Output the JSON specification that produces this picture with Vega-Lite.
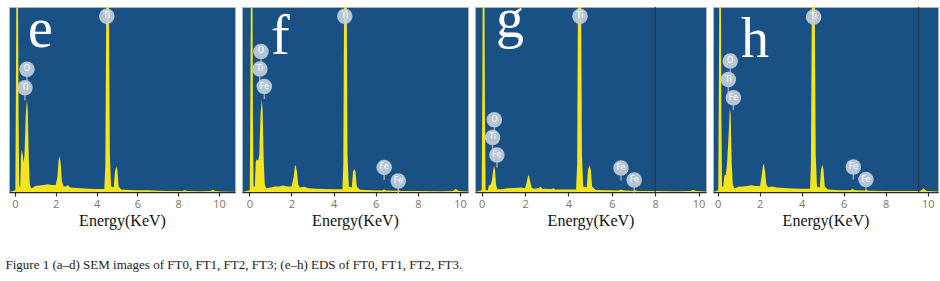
{
  "$schema": "https://vega.github.io/schema/vega-lite/v6.json",
  "padding": {"left": 5, "top": 5, "right": 3, "bottom": 0},
  "background": "white",
  "spacing": 7,
  "bounds": "flush",
  "title": {"text": "Figure 1  (a–d) SEM images of FT0, FT1, FT2, FT3; (e–h) EDS of FT0, FT1, FT2, FT3.", "orient": "bottom", "anchor": "start", "font": "Liberation Serif", "fontSize": 13, "fontWeight": "normal", "color": "#222222", "offset": 30, "dx": -3},
  "config": {
    "concat": {"spacing": 7},
    "view": {"fill": "#1a5184", "stroke": "#a9b6c4", "strokeWidth": 1},
    "axisX": {
      "values": [0,0.5,1,1.5,2,2.5,3,3.5,4,4.5,5,5.5,6,6.5,7,7.5,8,8.5,9,9.5,10],
      "labelExpr": "datum.value % 2 == 0 ? datum.label : ''",
      "grid": false, "domainColor": "#2b2b2b", "domainWidth": 1.5, "tickColor": "#2b2b2b", "tickSize": 4, "tickWidth": 1.2,
      "labelColor": "#85705e", "labelFont": "Open Sans", "labelFontSize": 11, "labelPadding": 2, "labelFlush": false
    }
  },
  "datasets": {
    "spectra": [
      {"p":"e","e":-0.3,"c":0},{"p":"e","e":0.02,"c":1},{"p":"e","e":0.05,"c":60},{"p":"e","e":0.08,"c":130},{"p":"e","e":0.14,"c":130},{"p":"e","e":0.18,"c":40},{"p":"e","e":0.21,"c":3},{"p":"e","e":0.26,"c":3},{"p":"e","e":0.3,"c":20},{"p":"e","e":0.34,"c":23},{"p":"e","e":0.38,"c":20},{"p":"e","e":0.42,"c":16},{"p":"e","e":0.47,"c":20},{"p":"e","e":0.53,"c":42},{"p":"e","e":0.59,"c":50},{"p":"e","e":0.63,"c":44},{"p":"e","e":0.68,"c":18},{"p":"e","e":0.73,"c":4},{"p":"e","e":0.8,"c":2},{"p":"e","e":0.9,"c":2.5},{"p":"e","e":1.0,"c":3.2},{"p":"e","e":1.2,"c":3.5},{"p":"e","e":1.4,"c":3.8},{"p":"e","e":1.6,"c":4.2},{"p":"e","e":1.8,"c":3.8},{"p":"e","e":2.0,"c":3.8},{"p":"e","e":2.08,"c":8},{"p":"e","e":2.14,"c":17},{"p":"e","e":2.18,"c":19.6},{"p":"e","e":2.24,"c":16},{"p":"e","e":2.3,"c":6},{"p":"e","e":2.38,"c":3},{"p":"e","e":2.5,"c":3},{"p":"e","e":2.6,"c":3.8},{"p":"e","e":2.7,"c":2.5},{"p":"e","e":3.0,"c":2.2},{"p":"e","e":3.3,"c":2},{"p":"e","e":3.6,"c":1.8},{"p":"e","e":4.0,"c":1.6},{"p":"e","e":4.38,"c":1.6},{"p":"e","e":4.43,"c":15},{"p":"e","e":4.48,"c":110},{"p":"e","e":4.6,"c":110},{"p":"e","e":4.65,"c":20},{"p":"e","e":4.71,"c":3},{"p":"e","e":4.84,"c":2.5},{"p":"e","e":4.9,"c":11},{"p":"e","e":4.96,"c":13.6},{"p":"e","e":5.02,"c":12},{"p":"e","e":5.08,"c":3},{"p":"e","e":5.2,"c":1.3},{"p":"e","e":5.6,"c":1.1},{"p":"e","e":6.0,"c":0.9},{"p":"e","e":6.5,"c":0.9},{"p":"e","e":7.0,"c":0.7},{"p":"e","e":7.5,"c":0.6},{"p":"e","e":8.2,"c":0.6},{"p":"e","e":8.3,"c":1},{"p":"e","e":8.45,"c":0.5},{"p":"e","e":9.0,"c":0.4},{"p":"e","e":9.6,"c":0.5},{"p":"e","e":9.7,"c":1.4},{"p":"e","e":9.8,"c":0.6},{"p":"e","e":10.1,"c":0.3},{"p":"e","e":10.78,"c":0.2},
      {"p":"f","e":-0.35,"c":0},{"p":"f","e":0.02,"c":1},{"p":"f","e":0.05,"c":60},{"p":"f","e":0.08,"c":130},{"p":"f","e":0.14,"c":130},{"p":"f","e":0.17,"c":40},{"p":"f","e":0.2,"c":3},{"p":"f","e":0.26,"c":3},{"p":"f","e":0.3,"c":16},{"p":"f","e":0.34,"c":17.6},{"p":"f","e":0.42,"c":17},{"p":"f","e":0.47,"c":20},{"p":"f","e":0.53,"c":42},{"p":"f","e":0.59,"c":50},{"p":"f","e":0.63,"c":44},{"p":"f","e":0.68,"c":18},{"p":"f","e":0.73,"c":4},{"p":"f","e":0.8,"c":2},{"p":"f","e":1.0,"c":2.5},{"p":"f","e":1.2,"c":3},{"p":"f","e":1.4,"c":3},{"p":"f","e":1.6,"c":3.5},{"p":"f","e":1.8,"c":3},{"p":"f","e":2.0,"c":3},{"p":"f","e":2.1,"c":8},{"p":"f","e":2.16,"c":14},{"p":"f","e":2.2,"c":14.5},{"p":"f","e":2.26,"c":11},{"p":"f","e":2.32,"c":4},{"p":"f","e":2.4,"c":2.5},{"p":"f","e":2.6,"c":2.8},{"p":"f","e":2.8,"c":2},{"p":"f","e":3.2,"c":1.8},{"p":"f","e":3.6,"c":1.6},{"p":"f","e":4.0,"c":1.5},{"p":"f","e":4.42,"c":1.5},{"p":"f","e":4.46,"c":15},{"p":"f","e":4.5,"c":110},{"p":"f","e":4.62,"c":110},{"p":"f","e":4.66,"c":20},{"p":"f","e":4.72,"c":3},{"p":"f","e":4.86,"c":2.5},{"p":"f","e":4.92,"c":11},{"p":"f","e":4.98,"c":12.4},{"p":"f","e":5.04,"c":11},{"p":"f","e":5.1,"c":3},{"p":"f","e":5.25,"c":1.2},{"p":"f","e":5.8,"c":0.9},{"p":"f","e":6.3,"c":0.8},{"p":"f","e":6.4,"c":1.3},{"p":"f","e":6.5,"c":0.8},{"p":"f","e":7.0,"c":0.7},{"p":"f","e":7.1,"c":1},{"p":"f","e":7.2,"c":0.6},{"p":"f","e":8.0,"c":0.5},{"p":"f","e":9.0,"c":0.4},{"p":"f","e":9.65,"c":0.5},{"p":"f","e":9.8,"c":1.6},{"p":"f","e":9.95,"c":0.6},{"p":"f","e":10.38,"c":0.3},
      {"p":"g","e":-0.31,"c":0},{"p":"g","e":0.0,"c":1},{"p":"g","e":0.03,"c":60},{"p":"g","e":0.05,"c":130},{"p":"g","e":0.12,"c":130},{"p":"g","e":0.15,"c":40},{"p":"g","e":0.18,"c":1},{"p":"g","e":0.28,"c":1},{"p":"g","e":0.33,"c":3.5},{"p":"g","e":0.42,"c":4},{"p":"g","e":0.48,"c":7},{"p":"g","e":0.53,"c":12},{"p":"g","e":0.57,"c":14},{"p":"g","e":0.61,"c":12},{"p":"g","e":0.66,"c":4},{"p":"g","e":0.72,"c":1.5},{"p":"g","e":0.9,"c":1.5},{"p":"g","e":1.2,"c":2},{"p":"g","e":1.5,"c":2.2},{"p":"g","e":1.8,"c":2.5},{"p":"g","e":2.0,"c":2},{"p":"g","e":2.07,"c":5},{"p":"g","e":2.13,"c":8.5},{"p":"g","e":2.17,"c":9},{"p":"g","e":2.23,"c":6},{"p":"g","e":2.3,"c":2.5},{"p":"g","e":2.4,"c":1.8},{"p":"g","e":2.62,"c":2},{"p":"g","e":2.7,"c":2.8},{"p":"g","e":2.8,"c":1.8},{"p":"g","e":3.2,"c":1.6},{"p":"g","e":3.3,"c":2},{"p":"g","e":3.4,"c":1.4},{"p":"g","e":3.8,"c":1.3},{"p":"g","e":4.35,"c":1.3},{"p":"g","e":4.4,"c":15},{"p":"g","e":4.44,"c":110},{"p":"g","e":4.58,"c":110},{"p":"g","e":4.62,"c":20},{"p":"g","e":4.68,"c":3},{"p":"g","e":4.84,"c":2.5},{"p":"g","e":4.9,"c":12},{"p":"g","e":4.97,"c":14.5},{"p":"g","e":5.03,"c":12},{"p":"g","e":5.09,"c":3},{"p":"g","e":5.25,"c":1.1},{"p":"g","e":5.8,"c":0.9},{"p":"g","e":6.3,"c":0.8},{"p":"g","e":6.42,"c":1.4},{"p":"g","e":6.55,"c":0.8},{"p":"g","e":7.0,"c":0.7},{"p":"g","e":7.08,"c":1},{"p":"g","e":7.2,"c":0.6},{"p":"g","e":8.0,"c":0.5},{"p":"g","e":9.0,"c":0.4},{"p":"g","e":9.6,"c":0.5},{"p":"g","e":9.75,"c":1.1},{"p":"g","e":9.9,"c":0.5},{"p":"g","e":10.34,"c":0.3},
      {"p":"h","e":-0.22,"c":0},{"p":"h","e":0.03,"c":1},{"p":"h","e":0.06,"c":60},{"p":"h","e":0.09,"c":130},{"p":"h","e":0.15,"c":130},{"p":"h","e":0.18,"c":40},{"p":"h","e":0.21,"c":3},{"p":"h","e":0.27,"c":3},{"p":"h","e":0.31,"c":8},{"p":"h","e":0.34,"c":9.4},{"p":"h","e":0.39,"c":9},{"p":"h","e":0.45,"c":15.7},{"p":"h","e":0.52,"c":30},{"p":"h","e":0.58,"c":45.5},{"p":"h","e":0.62,"c":42},{"p":"h","e":0.67,"c":16},{"p":"h","e":0.72,"c":4},{"p":"h","e":0.8,"c":2},{"p":"h","e":1.0,"c":2.8},{"p":"h","e":1.2,"c":3},{"p":"h","e":1.4,"c":3.2},{"p":"h","e":1.6,"c":3.6},{"p":"h","e":1.8,"c":3.2},{"p":"h","e":2.02,"c":3.2},{"p":"h","e":2.1,"c":9},{"p":"h","e":2.16,"c":14.5},{"p":"h","e":2.2,"c":15.2},{"p":"h","e":2.26,"c":11},{"p":"h","e":2.32,"c":4},{"p":"h","e":2.4,"c":2.6},{"p":"h","e":2.6,"c":3},{"p":"h","e":2.8,"c":2.4},{"p":"h","e":3.2,"c":2.2},{"p":"h","e":3.6,"c":1.9},{"p":"h","e":4.0,"c":1.8},{"p":"h","e":4.4,"c":1.8},{"p":"h","e":4.44,"c":15},{"p":"h","e":4.49,"c":110},{"p":"h","e":4.62,"c":110},{"p":"h","e":4.67,"c":20},{"p":"h","e":4.73,"c":3},{"p":"h","e":4.86,"c":2.5},{"p":"h","e":4.92,"c":12},{"p":"h","e":4.98,"c":14.8},{"p":"h","e":5.04,"c":12},{"p":"h","e":5.1,"c":3},{"p":"h","e":5.25,"c":1.3},{"p":"h","e":5.8,"c":1},{"p":"h","e":6.3,"c":0.9},{"p":"h","e":6.42,"c":1.6},{"p":"h","e":6.55,"c":0.9},{"p":"h","e":7.0,"c":0.8},{"p":"h","e":7.08,"c":1.1},{"p":"h","e":7.2,"c":0.7},{"p":"h","e":8.0,"c":0.6},{"p":"h","e":9.0,"c":0.5},{"p":"h","e":9.65,"c":0.6},{"p":"h","e":9.8,"c":1.9},{"p":"h","e":9.95,"c":0.6},{"p":"h","e":10.49,"c":0.3}
    ],
    "labels": [
      {"p":"e","e":4.5,"c":95,"t":"Ti"},{"p":"e","e":0.59,"c":66.4,"t":"O"},{"p":"e","e":0.49,"c":56.4,"t":"Ti"},
      {"p":"f","e":4.53,"c":95,"t":"Ti"},{"p":"f","e":0.55,"c":76,"t":"O"},{"p":"f","e":0.5,"c":66.5,"t":"Ti"},{"p":"f","e":0.71,"c":57,"t":"Fe"},{"p":"f","e":6.4,"c":13.3,"t":"Fe"},{"p":"f","e":7.07,"c":6,"t":"Fe"},
      {"p":"g","e":4.53,"c":95,"t":"Ti"},{"p":"g","e":0.58,"c":39,"t":"O"},{"p":"g","e":0.5,"c":29.5,"t":"Ti"},{"p":"g","e":0.7,"c":20,"t":"Fe"},{"p":"g","e":6.42,"c":13,"t":"Fe"},{"p":"g","e":7.03,"c":6.5,"t":"Fe"},
      {"p":"h","e":4.57,"c":94.6,"t":"Ti"},{"p":"h","e":0.6,"c":70.8,"t":"O"},{"p":"h","e":0.51,"c":60.8,"t":"Ti"},{"p":"h","e":0.75,"c":50.9,"t":"Fe"},{"p":"h","e":6.46,"c":13.5,"t":"Fe"},{"p":"h","e":7.06,"c":6.7,"t":"Fe"}
    ],
    "letters": [
      {"p":"e","e":0.64,"c":78.4,"t":"e"},{"p":"f","e":1.03,"c":74.6,"t":"f"},{"p":"g","e":0.66,"c":83.8,"t":"g"},{"p":"h","e":1.11,"c":73,"t":"h"}
    ],
    "lines": [
      {"p":"g","e":8.0},{"p":"h","e":9.57}
    ]
  },
  "hconcat": [
    {
      "width": 226, "height": 185,
      "layer": [
        {"data": {"name": "spectra"}, "transform": [{"filter": "datum.p == 'e'"}], "mark": {"type": "area", "color": "#f3e41e", "clip": true, "interpolate": "linear"},
         "encoding": {"x": {"field": "e", "type": "quantitative", "scale": {"domain": [-0.29, 10.78], "nice": false, "zero": false}, "axis": {"title": "Energy(KeV)", "titleFont": "Liberation Serif", "titleFontSize": 16, "titleFontWeight": "normal", "titleColor": "#111111", "titlePadding": 3}}, "y": {"field": "c", "type": "quantitative", "scale": {"domain": [0, 100], "nice": false}, "axis": null}}},
        {"data": {"name": "labels"}, "transform": [{"filter": "datum.p == 'e'"}], "mark": {"type": "tick", "orient": "vertical", "color": "#c3cfdb", "size": 5, "thickness": 1.5, "yOffset": 10},
         "encoding": {"x": {"field": "e", "type": "quantitative"}, "y": {"field": "c", "type": "quantitative"}}},
        {"data": {"name": "labels"}, "transform": [{"filter": "datum.p == 'e'"}], "mark": {"type": "circle", "color": "#c3cfdb", "opacity": 0.92, "size": 240},
         "encoding": {"x": {"field": "e", "type": "quantitative"}, "y": {"field": "c", "type": "quantitative"}}},
        {"data": {"name": "labels"}, "transform": [{"filter": "datum.p == 'e'"}], "mark": {"type": "text", "color": "#ffffff", "font": "DejaVu Sans", "fontSize": 8, "baseline": "middle", "align": "center"},
         "encoding": {"x": {"field": "e", "type": "quantitative"}, "y": {"field": "c", "type": "quantitative"}, "text": {"field": "t"}}},
        {"data": {"name": "letters"}, "transform": [{"filter": "datum.p == 'e'"}], "mark": {"type": "text", "color": "#ffffff", "font": "Liberation Serif", "fontSize": 56, "baseline": "alphabetic", "align": "left", "clip": true},
         "encoding": {"x": {"field": "e", "type": "quantitative"}, "y": {"field": "c", "type": "quantitative"}, "text": {"field": "t"}}}
      ]
    },
    {
      "width": 226, "height": 185,
      "layer": [
        {"data": {"name": "spectra"}, "transform": [{"filter": "datum.p == 'f'"}], "mark": {"type": "area", "color": "#f3e41e", "clip": true, "interpolate": "linear"},
         "encoding": {"x": {"field": "e", "type": "quantitative", "scale": {"domain": [-0.35, 10.38], "nice": false, "zero": false}, "axis": {"title": "Energy(KeV)", "titleFont": "Liberation Serif", "titleFontSize": 16, "titleFontWeight": "normal", "titleColor": "#111111", "titlePadding": 3}}, "y": {"field": "c", "type": "quantitative", "scale": {"domain": [0, 100], "nice": false}, "axis": null}}},
        {"data": {"name": "labels"}, "transform": [{"filter": "datum.p == 'f'"}], "mark": {"type": "tick", "orient": "vertical", "color": "#c3cfdb", "size": 5, "thickness": 1.5, "yOffset": 10},
         "encoding": {"x": {"field": "e", "type": "quantitative"}, "y": {"field": "c", "type": "quantitative"}}},
        {"data": {"name": "labels"}, "transform": [{"filter": "datum.p == 'f'"}], "mark": {"type": "circle", "color": "#c3cfdb", "opacity": 0.92, "size": 240},
         "encoding": {"x": {"field": "e", "type": "quantitative"}, "y": {"field": "c", "type": "quantitative"}}},
        {"data": {"name": "labels"}, "transform": [{"filter": "datum.p == 'f'"}], "mark": {"type": "text", "color": "#ffffff", "font": "DejaVu Sans", "fontSize": 8, "baseline": "middle", "align": "center"},
         "encoding": {"x": {"field": "e", "type": "quantitative"}, "y": {"field": "c", "type": "quantitative"}, "text": {"field": "t"}}},
        {"data": {"name": "letters"}, "transform": [{"filter": "datum.p == 'f'"}], "mark": {"type": "text", "color": "#ffffff", "font": "Liberation Serif", "fontSize": 56, "baseline": "alphabetic", "align": "left", "clip": true},
         "encoding": {"x": {"field": "e", "type": "quantitative"}, "y": {"field": "c", "type": "quantitative"}, "text": {"field": "t"}}}
      ]
    },
    {
      "width": 231, "height": 185,
      "layer": [
        {"data": {"name": "spectra"}, "transform": [{"filter": "datum.p == 'g'"}], "mark": {"type": "area", "color": "#f3e41e", "clip": true, "interpolate": "linear"},
         "encoding": {"x": {"field": "e", "type": "quantitative", "scale": {"domain": [-0.31, 10.34], "nice": false, "zero": false}, "axis": {"title": "Energy(KeV)", "titleFont": "Liberation Serif", "titleFontSize": 16, "titleFontWeight": "normal", "titleColor": "#111111", "titlePadding": 3}}, "y": {"field": "c", "type": "quantitative", "scale": {"domain": [0, 100], "nice": false}, "axis": null}}},
        {"data": {"name": "lines"}, "transform": [{"filter": "datum.p == 'g'"}], "mark": {"type": "rule", "color": "#2c3640", "strokeWidth": 1.2},
         "encoding": {"x": {"field": "e", "type": "quantitative"}}},
        {"data": {"name": "labels"}, "transform": [{"filter": "datum.p == 'g'"}], "mark": {"type": "tick", "orient": "vertical", "color": "#c3cfdb", "size": 5, "thickness": 1.5, "yOffset": 10},
         "encoding": {"x": {"field": "e", "type": "quantitative"}, "y": {"field": "c", "type": "quantitative"}}},
        {"data": {"name": "labels"}, "transform": [{"filter": "datum.p == 'g'"}], "mark": {"type": "circle", "color": "#c3cfdb", "opacity": 0.92, "size": 240},
         "encoding": {"x": {"field": "e", "type": "quantitative"}, "y": {"field": "c", "type": "quantitative"}}},
        {"data": {"name": "labels"}, "transform": [{"filter": "datum.p == 'g'"}], "mark": {"type": "text", "color": "#ffffff", "font": "DejaVu Sans", "fontSize": 8, "baseline": "middle", "align": "center"},
         "encoding": {"x": {"field": "e", "type": "quantitative"}, "y": {"field": "c", "type": "quantitative"}, "text": {"field": "t"}}},
        {"data": {"name": "letters"}, "transform": [{"filter": "datum.p == 'g'"}], "mark": {"type": "text", "color": "#ffffff", "font": "Liberation Serif", "fontSize": 56, "baseline": "alphabetic", "align": "left", "clip": true},
         "encoding": {"x": {"field": "e", "type": "quantitative"}, "y": {"field": "c", "type": "quantitative"}, "text": {"field": "t"}}}
      ]
    },
    {
      "width": 225, "height": 185,
      "layer": [
        {"data": {"name": "spectra"}, "transform": [{"filter": "datum.p == 'h'"}], "mark": {"type": "area", "color": "#f3e41e", "clip": true, "interpolate": "linear"},
         "encoding": {"x": {"field": "e", "type": "quantitative", "scale": {"domain": [-0.22, 10.49], "nice": false, "zero": false}, "axis": {"title": "Energy(KeV)", "titleFont": "Liberation Serif", "titleFontSize": 16, "titleFontWeight": "normal", "titleColor": "#111111", "titlePadding": 3}}, "y": {"field": "c", "type": "quantitative", "scale": {"domain": [0, 100], "nice": false}, "axis": null}}},
        {"data": {"name": "lines"}, "transform": [{"filter": "datum.p == 'h'"}], "mark": {"type": "rule", "color": "#2c3640", "strokeWidth": 1.2},
         "encoding": {"x": {"field": "e", "type": "quantitative"}}},
        {"data": {"name": "labels"}, "transform": [{"filter": "datum.p == 'h'"}], "mark": {"type": "tick", "orient": "vertical", "color": "#c3cfdb", "size": 5, "thickness": 1.5, "yOffset": 10},
         "encoding": {"x": {"field": "e", "type": "quantitative"}, "y": {"field": "c", "type": "quantitative"}}},
        {"data": {"name": "labels"}, "transform": [{"filter": "datum.p == 'h'"}], "mark": {"type": "circle", "color": "#c3cfdb", "opacity": 0.92, "size": 240},
         "encoding": {"x": {"field": "e", "type": "quantitative"}, "y": {"field": "c", "type": "quantitative"}}},
        {"data": {"name": "labels"}, "transform": [{"filter": "datum.p == 'h'"}], "mark": {"type": "text", "color": "#ffffff", "font": "DejaVu Sans", "fontSize": 8, "baseline": "middle", "align": "center"},
         "encoding": {"x": {"field": "e", "type": "quantitative"}, "y": {"field": "c", "type": "quantitative"}, "text": {"field": "t"}}},
        {"data": {"name": "letters"}, "transform": [{"filter": "datum.p == 'h'"}], "mark": {"type": "text", "color": "#ffffff", "font": "Liberation Serif", "fontSize": 56, "baseline": "alphabetic", "align": "left", "clip": true},
         "encoding": {"x": {"field": "e", "type": "quantitative"}, "y": {"field": "c", "type": "quantitative"}, "text": {"field": "t"}}}
      ]
    }
  ]
}
